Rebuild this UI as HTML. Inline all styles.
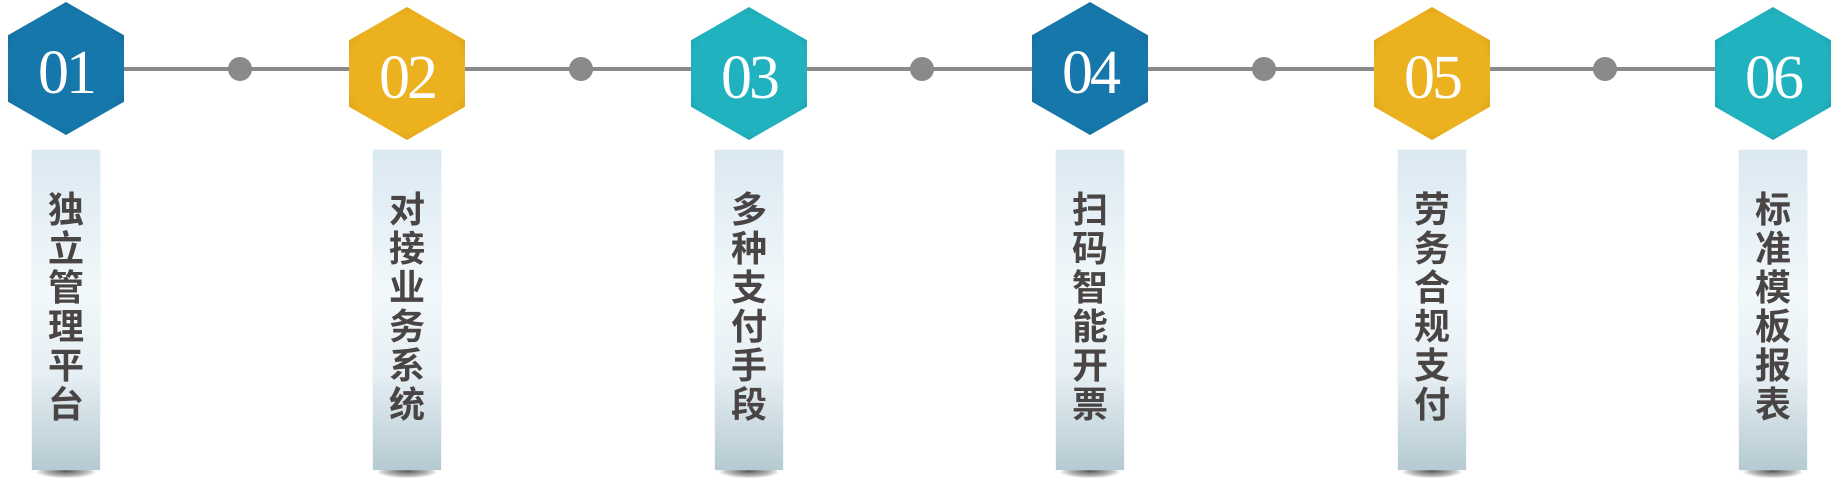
<!DOCTYPE html>
<html><head><meta charset="utf-8"><style>
html,body{margin:0;padding:0;background:#fff;width:1844px;height:485px;overflow:hidden;position:relative}
.line{position:absolute;left:66px;width:1707px;top:67px;height:4px;background:#8a8a8a}
.dot{position:absolute;width:24px;height:24px;border-radius:50%;background:#8a8a8a;top:57px}
.hex{position:absolute;width:116px;height:133px;clip-path:polygon(50% 0,100% 25%,100% 75%,50% 100%,0 75%,0 25%)}
.num{position:absolute;left:0;width:116px;text-align:center;color:#fff;font-family:"Liberation Serif",serif;font-size:62px;letter-spacing:-3px;line-height:1}
.bar{position:absolute;top:150px;width:68px;height:320px;background:linear-gradient(#dbe9f1,#f2f8fb 45%,#e6eff4 70%,#b6cad2);box-shadow:0 0 1px #c9d6dc}
.sh{position:absolute;top:468px;width:60px;height:10px;border-radius:50%;background:radial-gradient(ellipse at 50% 30%,#555 0,rgba(80,80,80,.4) 50%,rgba(255,255,255,0) 75%)}
.t{position:absolute;top:190px;width:68px;text-align:center;font-family:"Liberation Sans","Noto Sans CJK SC",sans-serif;font-weight:bold;font-size:36px;line-height:39px;color:#4a4545}
</style></head><body>
<div class="line"></div>
<div class="dot" style="left:228px"></div>
<div class="dot" style="left:569px"></div>
<div class="dot" style="left:910px"></div>
<div class="dot" style="left:1252px"></div>
<div class="dot" style="left:1593px"></div>

<div class="hex" style="left:8px;top:2px;background:radial-gradient(circle,#1677ab 65%,#0f5f88)"><div class="num" style="top:40px">01</div></div>
<div class="hex" style="left:349px;top:7px;background:radial-gradient(circle,#ecb11e 65%,#c98f10)"><div class="num" style="top:40px">02</div></div>
<div class="hex" style="left:691px;top:7px;background:radial-gradient(circle,#20b3bf 65%,#138c97)"><div class="num" style="top:40px">03</div></div>
<div class="hex" style="left:1032px;top:2px;background:radial-gradient(circle,#1677ab 65%,#0f5f88)"><div class="num" style="top:40px">04</div></div>
<div class="hex" style="left:1374px;top:7px;background:radial-gradient(circle,#ecb11e 65%,#c98f10)"><div class="num" style="top:40px">05</div></div>
<div class="hex" style="left:1715px;top:7px;background:radial-gradient(circle,#20b3bf 65%,#138c97)"><div class="num" style="top:40px">06</div></div>

<div class="sh" style="left:36px"></div><div class="bar" style="left:32px"></div><div class="t" style="left:32px">独<br>立<br>管<br>理<br>平<br>台</div>
<div class="sh" style="left:377px"></div><div class="bar" style="left:373px"></div><div class="t" style="left:373px">对<br>接<br>业<br>务<br>系<br>统</div>
<div class="sh" style="left:719px"></div><div class="bar" style="left:715px"></div><div class="t" style="left:715px">多<br>种<br>支<br>付<br>手<br>段</div>
<div class="sh" style="left:1060px"></div><div class="bar" style="left:1056px"></div><div class="t" style="left:1056px">扫<br>码<br>智<br>能<br>开<br>票</div>
<div class="sh" style="left:1402px"></div><div class="bar" style="left:1398px"></div><div class="t" style="left:1398px">劳<br>务<br>合<br>规<br>支<br>付</div>
<div class="sh" style="left:1743px"></div><div class="bar" style="left:1739px"></div><div class="t" style="left:1739px">标<br>准<br>模<br>板<br>报<br>表</div>
</body></html>
